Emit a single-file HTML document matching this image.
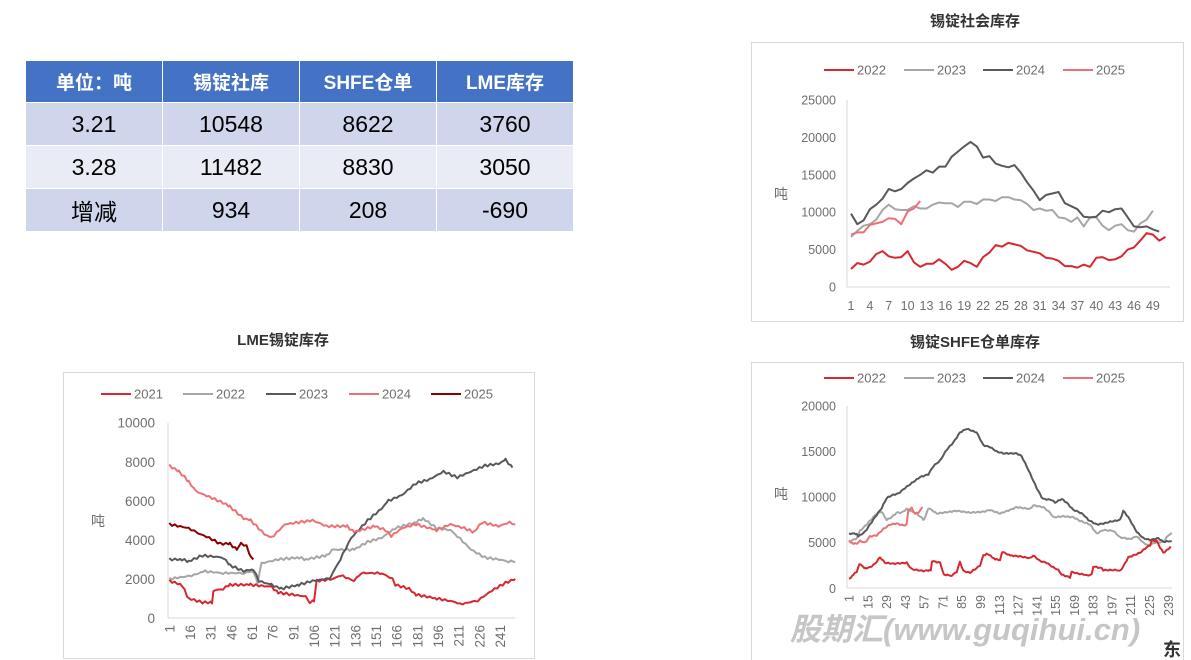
<!DOCTYPE html>
<html><head><meta charset="utf-8">
<style>
html,body{margin:0;padding:0;background:#fff;}
body{width:1191px;height:660px;overflow:hidden;position:relative;font-family:"Liberation Sans","Noto Sans CJK SC",sans-serif;}
table{position:absolute;left:25px;top:60px;border-collapse:collapse;}
td{width:136px;text-align:center;border:1px solid #fff;padding:0;}
tr.h td{background:#4472C4;color:#fff;font-weight:bold;font-size:19px;height:41px;}
tr.a td{background:#CFD5EA;font-size:23px;height:42px;}
tr.b td{background:#E9EBF5;font-size:23px;height:42px;}
svg{position:absolute;left:0;top:0;}
</style></head><body>
<table>
<tr class="h"><td>单位：吨</td><td>锡锭社库</td><td>SHFE仓单</td><td>LME库存</td></tr>
<tr class="a"><td>3.21</td><td>10548</td><td>8622</td><td>3760</td></tr>
<tr class="b"><td>3.28</td><td>11482</td><td>8830</td><td>3050</td></tr>
<tr class="a"><td>增减</td><td>934</td><td>208</td><td>-690</td></tr>
</table>
<svg id="s" width="1191" height="660" xmlns="http://www.w3.org/2000/svg" font-family="Liberation Sans, Noto Sans CJK SC, sans-serif">
<rect x="751.5" y="42.5" width="432" height="279" fill="none" stroke="#d9d9d9"/>
<rect x="63.5" y="372.5" width="471" height="286" fill="none" stroke="#d9d9d9"/>
<rect x="751.5" y="362.5" width="432" height="300" fill="none" stroke="#d9d9d9"/>
<text x="975" y="26" text-anchor="middle" font-size="15" font-weight="bold" fill="#333">锡锭社会库存</text>
<text x="283" y="345" text-anchor="middle" font-size="15" font-weight="bold" fill="#333">LME锡锭库存</text>
<text x="975" y="347" text-anchor="middle" font-size="15" font-weight="bold" fill="#333">锡锭SHFE仓单库存</text>
<g id="g"></g>
<text x="790" y="640" font-size="31" font-weight="bold" font-style="italic" fill="#bdbdbd" opacity="0.85">股期汇(www.guqihui.cn)</text>
<text x="1163" y="656" font-size="18" font-weight="bold" fill="#333">东</text>
</svg>
<script>
var g=document.getElementById('g'),h='';
function pl(pts,c,w){h+='<polyline fill="none" stroke="'+c+'" stroke-width="'+(w||2)+'" stroke-linejoin="round" points="'+pts.map(function(p){return p[0].toFixed(1)+','+p[1].toFixed(1)}).join(' ')+'"/>';}
function tx(x,y,t,a,s,rot){h+='<text x="'+x+'" y="'+y+'" font-size="'+(s||12.5)+'" fill="#6e6e6e" text-anchor="'+(a||'middle')+'"'+(rot?' transform="rotate(-90 '+x+' '+y+')"':'')+'>'+t+'</text>';}
function line(x1,y1,x2,y2){h+='<line x1="'+x1+'" y1="'+y1+'" x2="'+x2+'" y2="'+y2+'" stroke="#d9d9d9" stroke-width="1"/>';}
function leg(x,y,items){items.forEach(function(it){h+='<line x1="'+x+'" y1="'+y+'" x2="'+(x+30)+'" y2="'+y+'" stroke="'+it[1]+'" stroke-width="2"/>';tx(x+33,y+4.5,it[0],'start',13);x+=it[2];});}
var C1='#d7282f',C2='#a6a6a6',C3='#595959',C4='#ec7174',C5='#8b0000';
(function(){var y=function(v){return 287-v*187/25000},x=function(i){return 851+i*6.29};
line(847,100,847,287);line(847,287,1170,287);
for(var v=0;v<=25000;v+=5000)tx(836,y(v)+4.5,v,'end');
for(var k=0;k<=48;k+=3)tx(x(k),310,k+1);
tx(781,199,'吨','middle',14);
leg(824,70,[['2022',C1,80],['2023',C2,79],['2024',C3,80],['2025',C4,80]]);
var d={a:[2400,3200,3000,3400,4400,4800,4100,3900,4000,4800,3300,2700,3100,3100,3700,3100,2300,2700,3500,3200,2700,4000,4600,5600,5400,5900,5700,5500,4900,4700,4500,3900,3800,3500,2800,2800,2600,3000,2700,3900,4000,3600,3700,4100,5000,5300,6200,7200,7000,6200,6700],
b:[6700,7500,8200,8400,9000,10300,11000,10400,10300,10300,10800,10500,10500,11000,11300,11200,11200,10700,11400,11400,11100,11700,11700,11500,12000,12000,11700,11600,11100,10300,10500,10200,10300,9300,9200,8700,9300,8100,9300,9300,8200,7600,8200,8400,7600,7400,8500,9000,10200],
c:[9800,8400,8900,10400,11000,11800,13100,12800,13100,13900,14500,15000,15600,15300,16100,16100,17400,18100,18800,19400,18800,17300,17500,16500,16200,16000,16300,15300,14000,12900,11600,12300,12500,12700,11200,10800,10400,9400,9300,9400,10200,10000,10400,10500,9300,8100,8000,8100,7700,7400],
e:[7000,7300,7300,8300,8500,8700,9200,9100,8400,10100,10500,11500]};
[['b',C2],['c',C3],['a',C1],['e',C4]].forEach(function(s){pl(d[s[0]].map(function(v,i){return[x(i),y(v)]}),s[1]);});})();
function interp(kp,X,Y,step){var out=[];for(var i=0;i<kp.length-1;i++){var a=kp[i],b=kp[i+1];for(var t=a[0];t<b[0];t+=step){var f=(t-a[0])/(b[0]-a[0]);var v=a[1]+(b[1]-a[1])*f;v+=Math.sin(t*1.7)*60;out.push([X(t),Y(v)]);}}var l=kp[kp.length-1];out.push([X(l[0]),Y(l[1])]);return out;}
(function(){var y=function(v){return 618-v*0.01953},x=function(d){return 169.3+(d-1)*1.378};
line(168,423,168,618);line(168,618,515,618);
for(var v=0;v<=10000;v+=2000)tx(155,y(v)+5,v,'end',13.5);
for(var d=1;d<=241;d+=15)tx(x(d)+5,625,d,'end',13.5,true);
tx(98,526,'吨','middle',14);
leg(101,394,[['2021',C1,82],['2022',C2,83],['2023',C3,83],['2024',C4,82],['2025',C5,80]]);
var S={a:[[1,1900],[10,1700],[15,1000],[25,800],[32,800],[33,1400],[40,1500],[45,1700],[60,1700],[75,1600],[80,1300],[100,1100],[103,800],[106,900],[108,1900],[120,2000],[125,2200],[135,1900],[140,2300],[155,2300],[163,2000],[165,1700],[175,1500],[180,1200],[195,1000],[210,800],[212,700],[225,900],[235,1400],[245,1800],[252,2000]],
b:[[1,2000],[20,2200],[25,2400],[40,2300],[55,2300],[62,2400],[65,1800],[68,2800],[80,3000],[95,3100],[100,3000],[115,3200],[120,3500],[135,3500],[145,3900],[155,4100],[165,4600],[180,4900],[185,5100],[195,4600],[205,4500],[210,4200],[220,3500],[230,3100],[240,3000],[247,2900],[252,2900]],
c:[[1,3000],[10,3000],[15,2900],[25,3200],[40,3100],[45,2700],[55,2400],[62,2500],[66,1900],[75,1700],[82,1500],[95,1700],[105,1900],[115,2000],[118,2100],[125,3000],[133,4100],[145,5000],[155,5600],[160,6000],[170,6300],[180,6900],[190,7100],[200,7500],[210,7200],[220,7500],[230,7800],[240,7900],[245,8100],[250,7700]],
d:[[1,7800],[8,7500],[15,7000],[20,6500],[30,6200],[40,5900],[45,5700],[55,5100],[60,5000],[70,4300],[75,4100],[85,4800],[95,4900],[105,5000],[115,4700],[130,4700],[135,4400],[150,4700],[158,4500],[162,4200],[170,4600],[180,4800],[195,4500],[205,4800],[215,4600],[222,4400],[228,4900],[240,4700],[248,4900],[252,4800]],
e:[[1,4800],[15,4600],[20,4400],[30,4100],[38,3800],[45,3800],[50,3500],[53,3800],[57,3700],[60,3100],[62,3000]]};
[['a',C1],['b',C2],['c',C3],['d',C4],['e',C5]].forEach(function(s){pl(interp(S[s[0]],x,y,2),s[1]);});})();
(function(){var y=function(v){return 588.3-v*182.3/20000},x=function(d){return 849+(d-1)*1.3416},zx=function(z){return 750+z/3};
line(847,406,847,588);line(847,588,1172,588);
for(var v=0;v<=20000;v+=5000)tx(836,y(v)+4.5,v,'end');
for(var d=1;d<=239;d+=14)tx(x(d)+4.5,595,d,'end',12.5,true);
tx(781,499,'吨','middle',14);
leg(824,378,[['2022',C1,80],['2023',C2,79],['2024',C3,80],['2025',C4,80]]);
var S={a:[[297,1000],[310,1500],[320,1800],[328,2700],[345,2200],[360,2300],[375,2700],[390,3400],[405,2800],[430,2700],[470,2800],[485,2100],[520,1900],[542,2000],[546,3000],[570,2800],[582,1500],[605,1400],[620,1800],[630,2900],[640,1900],[660,1700],[690,2500],[700,3600],[712,3800],[735,3200],[750,3100],[757,4000],[780,3600],[810,3500],[840,3300],[850,3600],[870,3000],[890,2800],[905,2400],[925,2000],[935,1500],[960,1200],[965,1800],[985,1600],[1005,1500],[1010,1400],[1025,1500],[1030,2400],[1055,2200],[1060,2000],[1100,2000],[1110,1900],[1120,2400],[1135,3400],[1150,3600],[1170,3900],[1190,4500],[1200,4700],[1205,5200],[1220,5200],[1230,4500],[1240,3900],[1255,4300],[1262,4600]],
b:[[297,5100],[320,5500],[330,6300],[350,7000],[380,8200],[395,8400],[410,7500],[425,7800],[440,8300],[455,8300],[470,8700],[500,8200],[522,7500],[535,8800],[545,8600],[560,8200],[600,8400],[620,8500],[660,8300],[700,8400],[720,8600],[750,8200],[780,8600],[800,8900],[840,8700],[850,9100],[880,8900],[900,8300],[910,7800],[940,7900],[970,7800],[990,7400],[1020,7000],[1040,6000],[1060,6400],[1090,6300],[1110,5600],[1140,5400],[1160,5700],[1180,5000],[1195,4700],[1215,5000],[1240,5100],[1255,5800],[1265,6100]],
c:[[297,6000],[320,6000],[325,5700],[345,6200],[360,7000],[375,7800],[395,8800],[410,9900],[425,10200],[445,10400],[465,11000],[495,11800],[510,12200],[535,12500],[550,13400],[570,14000],[590,15200],[610,16000],[630,17100],[650,17500],[680,17100],[700,15700],[720,15500],[740,15000],[760,14800],[800,14800],[815,14500],[835,13000],[850,11800],[860,11000],[875,10000],[880,9800],[905,9700],[915,9400],[935,9800],[950,9400],[970,8600],[985,8400],[1000,8100],[1015,7500],[1040,7000],[1060,7100],[1080,7300],[1110,7500],[1120,8500],[1135,7800],[1160,6200],[1180,5500],[1200,5300],[1225,5500],[1240,5100],[1265,5200]],
e:[[297,5200],[310,4900],[320,4900],[330,5200],[345,5000],[360,5700],[380,5800],[400,6500],[420,7000],[440,7100],[460,6900],[470,7000],[475,8600],[485,8800],[495,8200],[505,8300],[518,8900]]};
[['b',C2],['c',C3],['a',C1],['e',C4]].forEach(function(s){pl(interp(S[s[0]],zx,y,5),s[1]);});})();
g.innerHTML=h;
</script>
</body></html>
